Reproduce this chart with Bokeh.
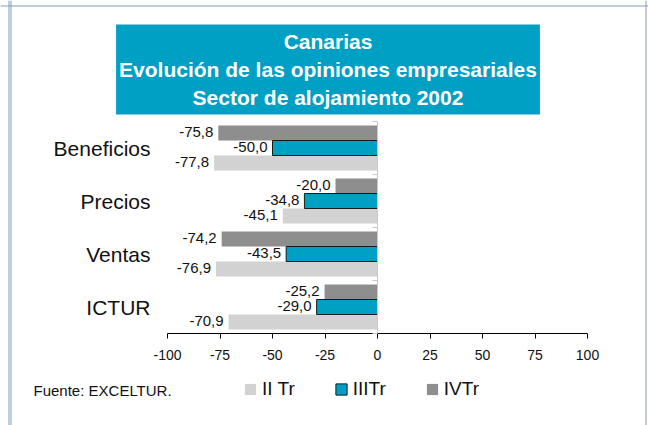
from bokeh.plotting import figure
from bokeh.models import (ColumnDataSource, Label, Legend, LegendItem, FixedTicker,
                          Range1d, LinearAxis, Span)
from bokeh.core.properties import value
from bokeh.embed import file_html
from bokeh.resources import INLINE

categories = ["Beneficios", "Precios", "Ventas", "ICTUR"]
series_names = ["II Tr", "IIITr", "IVTr"]
ii_tr = [-77.8, -45.1, -76.9, -70.9]
iii_tr = [-50.0, -34.8, -43.5, -29.0]
iv_tr = [-75.8, -20.0, -74.2, -25.2]
x_ticks = [-100, -75, -50, -25, 0, 25, 50, 75, 100]
x_tick_labels = ["-100", "-75", "-50", "-25", "0", "25", "50", "75", "100"]
title_lines = ["Canarias", "Evolución de las opiniones empresariales", "Sector de alojamiento 2002"]
source_note = "Fuente: EXCELTUR."

FONT = "Liberation Sans"
TEAL = "#00a0c4"
DARK = "#8e8e8e"
LIGHT = "#d2d2d2"
FRAME = "#7f9bc2"

# layout (pixels)
W, H = 648, 425
PX0, SX = 377, 2.1      # pixel of x=0, pixels per unit
PY0, SY = 333, 53       # pixel of y=0, pixels per category

n = len(categories)
centers = [n - 1 - i + 0.5 for i in range(n)]
bar_h = 0.283

p = figure(width=W, height=H, output_backend="svg", toolbar_location=None,
           x_range=Range1d(-PX0 / SX, (W - PX0) / SX),
           y_range=Range1d(-(H - PY0) / SY, PY0 / SY),
           min_border=0, min_border_left=0, min_border_right=0,
           min_border_top=0, min_border_bottom=0)
p.title.visible = False
p.border_fill_color = None
p.background_fill_color = None
p.outline_line_color = None
p.xgrid.visible = False
p.ygrid.visible = False

# page frame lines
for loc in (8.5, 10.5, 645.5):
    p.add_layout(Span(location=loc, location_units="screen", dimension="height",
                      line_color=FRAME, line_width=1))
p.add_layout(Span(location=H - 5.5, location_units="screen", dimension="width",
                  line_color=FRAME, line_width=1))

def make_src(vals, off):
    return ColumnDataSource(dict(
        y=[c + off for c in centers],
        v=vals,
        lab=[f"{v:.1f}".replace(".", ",") for v in vals]))

s_ii = make_src(ii_tr, -bar_h)
s_iii = make_src(iii_tr, 0.0)
s_iv = make_src(iv_tr, bar_h)

r_ii = p.hbar(y="y", left="v", right=0, height=bar_h, source=s_ii, fill_color=LIGHT, line_color=None)
r_iv = p.hbar(y="y", left="v", right=0, height=bar_h, source=s_iv, fill_color=DARK, line_color=None)
r_iii = p.hbar(y="y", left="v", right=0, height=bar_h, source=s_iii, fill_color=TEAL,
               line_color="#1a1a1a", line_width=1)

for s in (s_ii, s_iii, s_iv):
    p.text(x="v", y="y", text="lab", source=s, x_offset=-5, y_offset=-1,
           text_align="right", text_baseline="middle",
           text_font=value(FONT), text_font_size="15px", text_color="#111111")

# x axis
xa = p.xaxis[0]
xa.fixed_location = 0
xa.bounds = (x_ticks[0], x_ticks[-1])
xa.ticker = FixedTicker(ticks=x_ticks)
xa.major_label_overrides = {t: l for t, l in zip(x_ticks, x_tick_labels)}
xa.minor_tick_line_color = None
xa.major_tick_in = 0
xa.major_tick_out = 5
xa.axis_line_color = "black"
xa.major_tick_line_color = "black"
xa.major_label_text_font = FONT
xa.major_label_text_font_size = "14px"
xa.major_label_text_color = "#111111"
xa.major_label_standoff = 11

# y axis: category labels
ya = p.yaxis[0]
ya.fixed_location = x_ticks[0]
ya.bounds = (0, n)
ya.ticker = FixedTicker(ticks=centers)
ya.major_label_overrides = {c: name for c, name in zip(centers, categories)}
ya.axis_line_color = None
ya.major_tick_line_color = None
ya.minor_tick_line_color = None
ya.major_tick_in = 0
ya.major_tick_out = 0
ya.major_label_text_font = FONT
ya.major_label_text_font_size = "21px"
ya.major_label_text_color = "#111111"
ya.major_label_standoff = 17

# zero axis with ticks at group boundaries
bounds = list(range(n + 1))
za = LinearAxis(fixed_location=0, bounds=(0, n), ticker=FixedTicker(ticks=bounds),
                major_label_overrides={b: "" for b in bounds},
                axis_line_color="#c8c8c8", major_tick_line_color="#c8c8c8",
                major_tick_in=0, major_tick_out=5, minor_tick_line_color=None)
p.add_layout(za, "left")

# title box
title = Label(x=327.5, y=H - 69, x_units="screen", y_units="screen",
              text="\n".join(title_lines), text_align="center", text_baseline="middle",
              text_font=FONT, text_font_style="bold", text_font_size="21px",
              text_color="white", text_line_height=1.2,
              background_fill_color=TEAL,
              padding=dict(left=3, right=3, top=6, bottom=6))
p.add_layout(title)

note = Label(x=33, y=H - 390, x_units="screen", y_units="screen", text=source_note,
             text_align="left", text_baseline="middle",
             text_font=FONT, text_font_size="15px", text_color="#111111")
p.add_layout(note)

legend = Legend(items=[LegendItem(label=series_names[0], renderers=[r_ii]),
                       LegendItem(label=series_names[1], renderers=[r_iii]),
                       LegendItem(label=series_names[2], renderers=[r_iv])],
                location=(243, H - 400), orientation="horizontal",
                glyph_width=14, glyph_height=14, label_height=20, label_standoff=5,
                spacing=39, padding=0, margin=0,
                label_text_font=FONT, label_text_font_size="19px", label_text_color="#111111",
                border_line_color=None, background_fill_alpha=0)
p.add_layout(legend)

open("out.html", "w").write(file_html(p, INLINE))
